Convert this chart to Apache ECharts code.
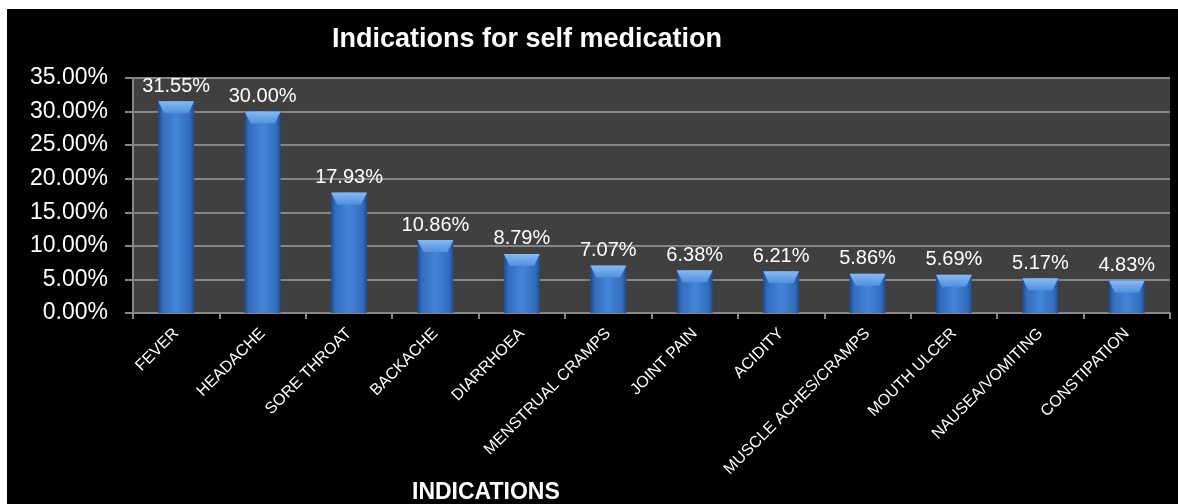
<!DOCTYPE html>
<html>
<head>
<meta charset="utf-8">
<script src="https://cdn.jsdelivr.net/npm/echarts@6/dist/echarts.min.js"></script>
<style>
html,body{margin:0;padding:0;background:#fff;width:1178px;height:504px;overflow:hidden;}
#c{position:absolute;left:7px;top:9px;width:1171px;height:495px;}
</style>
</head>
<body>
<div id="c"></div>
<script>
const categories = ['FEVER','HEADACHE','SORE THROAT','BACKACHE','DIARRHOEA','MENSTRUAL CRAMPS','JOINT PAIN','ACIDITY','MUSCLE ACHES/CRAMPS','MOUTH ULCER','NAUSEA/VOMITING','CONSTIPATION'];
const values = [31.55, 30.00, 17.93, 10.86, 8.79, 7.07, 6.38, 6.21, 5.86, 5.69, 5.17, 4.83];
const titleText = 'Indications for self medication';
const xAxisTitle = 'INDICATIONS';

const chart = echarts.init(document.getElementById('c'));
const pct = v => v.toFixed(2) + '%';
chart.setOption({
  backgroundColor: '#000',
  animation: false,
  title: [
    { text: titleText, left: 320, top: 12,
      textStyle: { color: '#fff', fontSize: 27, fontWeight: 'bold', fontFamily: 'Liberation Sans' } },
    { text: xAxisTitle, left: 400, top: 467,
      textStyle: { color: '#fff', fontSize: 23, fontWeight: 'bold', fontFamily: 'Liberation Sans' } }
  ],
  grid: { left: 126, top: 69, right: 8, bottom: 191, show: true, backgroundColor: '#404040', borderWidth: 0 },
  xAxis: {
    type: 'category', data: categories,
    axisLine: { show: true, lineStyle: { color: '#868686', width: 2 } },
    axisTick: { show: true, length: 6, lineStyle: { color: '#868686', width: 2 } },
    axisLabel: { color: '#fff', fontSize: 16, rotate: 45, margin: 18, fontFamily: 'Liberation Sans', interval: 0 }
  },
  yAxis: {
    type: 'value', min: 0, max: 35, interval: 5,
    axisLine: { show: true, lineStyle: { color: '#868686', width: 2 } },
    axisTick: { show: true, inside: false, length: 8, lineStyle: { color: '#868686', width: 2 } },
    splitLine: { show: true, lineStyle: { color: '#868686', width: 2 } },
    axisLabel: { color: '#fff', fontSize: 23, margin: 25, fontFamily: 'Liberation Sans', formatter: v => pct(v) }
  },
  series: [
    {
      type: 'bar', data: values, barWidth: 36, z: 2,
      itemStyle: {
        color: new echarts.graphic.LinearGradient(0, 0, 1, 0, [
          { offset: 0, color: '#1e4a8c' },
          { offset: 0.12, color: '#336cbd' },
          { offset: 0.5, color: '#4585d8' },
          { offset: 0.88, color: '#336cbd' },
          { offset: 1, color: '#1e4a8c' }
        ])
      },
      label: { show: true, position: 'top', distance: 5, color: '#fff', fontSize: 20,
        fontFamily: 'Liberation Sans', formatter: p => pct(p.value) }
    },
    {
      type: 'pictorialBar', data: values, symbol: 'path://M0,0 L36,0 L30,12 L6,12 Z',
      symbolSize: [36, 12], symbolPosition: 'end', barGap: '-100%', z: 3,
      silent: true,
      itemStyle: {
        color: new echarts.graphic.LinearGradient(0, 0, 0, 1, [
          { offset: 0, color: '#8ab8f0' },
          { offset: 1, color: '#4f90e0' }
        ])
      }
    }
  ]
});
</script>
</body>
</html>
